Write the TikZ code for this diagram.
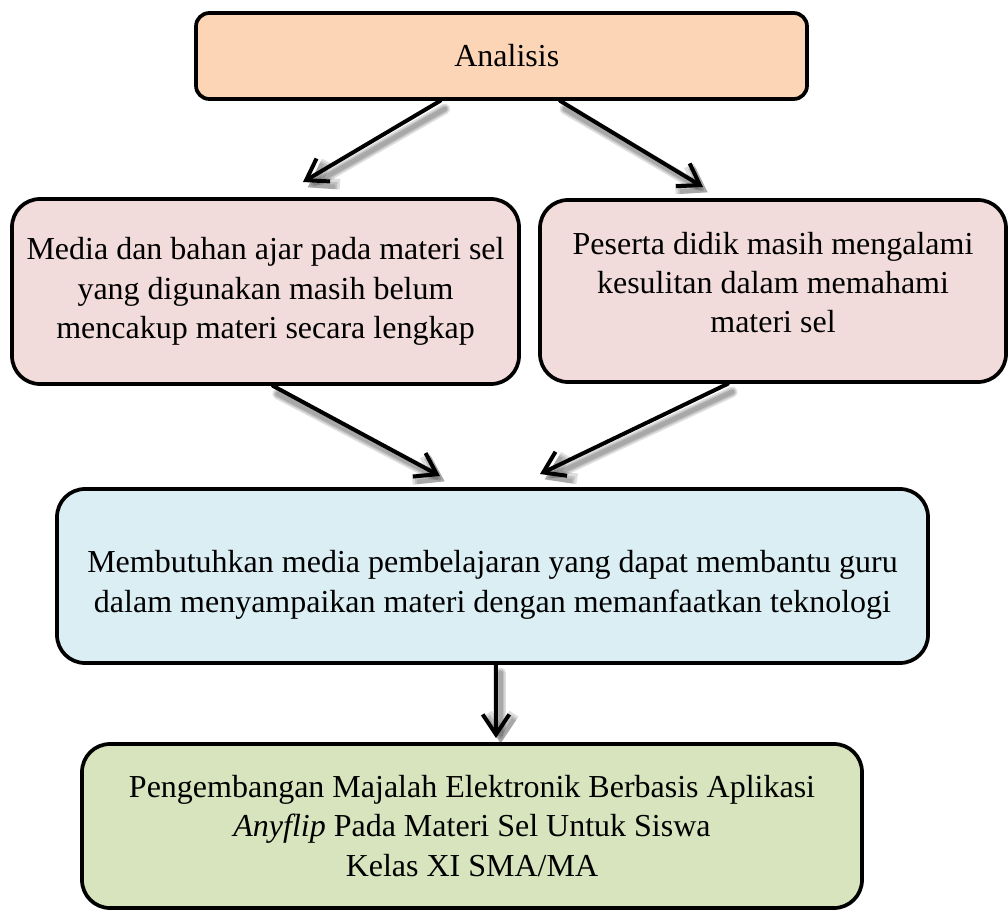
\documentclass[tikz,border=0pt]{standalone}
\usepackage{fontspec}
\setmainfont{Liberation Serif}
\usetikzlibrary{arrows.meta}
\definecolor{peach}{HTML}{FBD5B5}
\definecolor{pinkbox}{HTML}{F2DCDB}
\definecolor{bluebox}{HTML}{DAEEF3}
\definecolor{greenbox}{HTML}{D7E4BD}
\begin{document}
\begin{tikzpicture}[x=0.75pt,y=-0.75pt,
  box/.style={draw=black, line width=2.8pt, rounded corners=#1, align=center, inner sep=0pt,
    font=\fontsize{24}{29.5}\selectfont},
  arr/.style={line width=3pt, line cap=round, -{Straight Barb[length=15pt,width=20pt,line width=3pt]}},
  shd/.style={line width=#1, line cap=round, draw=black, draw opacity=0.13,
    -{Straight Barb[length=15pt,width=20pt,line width=#1]}, transform canvas={shift={(3.5pt,-4pt)}}}
]
\useasboundingbox (0,0) rectangle (1008,921);

% boxes
\node[box=10pt, fill=peach, minimum width={611*0.75pt}, minimum height={86*0.75pt}] (A) at (501.5,56) {\hspace*{8pt}Analisis};
\node[box=21pt, fill=pinkbox, minimum width={507*0.75pt}, minimum height={185*0.75pt}] (B) at (265.5,291.5)
  {Media dan bahan ajar pada materi sel\\yang digunakan masih belum\\mencakup materi secara lengkap};
\node[box=21pt, fill=pinkbox, minimum width={466*0.75pt}, minimum height={182*0.75pt}] (C) at (773,291)
  {Peserta didik masih mengalami\\kesulitan dalam memahami\\materi sel\rule[-13pt]{0pt}{1pt}};
\node[box=21pt, fill=bluebox, minimum width={871*0.75pt}, minimum height={174*0.75pt}] (D) at (492.5,576)
  {\rule{0pt}{30pt}Membutuhkan media pembelajaran yang dapat membantu guru\\dalam menyampaikan materi dengan memanfaatkan teknologi};
\node[box=21pt, fill=greenbox, minimum width={780*0.75pt}, minimum height={164*0.75pt}] (E) at (472,826)
  {Pengembangan Majalah Elektronik Berbasis Aplikasi\\\textit{Anyflip} Pada Materi Sel Untuk Siswa\\Kelas XI SMA/MA};

% arrow end points
\coordinate (tAB) at (303,182);
\coordinate (tAC) at (703,187);
\coordinate (tBD) at (440,476);
\coordinate (tCD) at (540,474);
\coordinate (tDE) at (496,738);

% shadows
\foreach \w in {8pt,5.5pt,3.5pt}{
  \draw[shd=\w] ([xshift=-46pt,yshift=-2pt]A.south) -- (tAB);
  \draw[shd=\w] ([xshift=44pt,yshift=-2pt]A.south) -- (tAC);
  \draw[shd=\w] ([xshift=5.6pt,yshift=-2pt]B.south) -- (tBD);
  \draw[shd=\w] ([xshift=-34pt,yshift=-2pt]C.south) -- (tCD);
  \draw[shd=\w] ([xshift=2.6pt,yshift=-2pt]D.south) -- (tDE);
}

% arrows
\draw[arr] ([xshift=-46pt]A.south) -- (tAB);
\draw[arr] ([xshift=44pt]A.south) -- (tAC);
\draw[arr] ([xshift=5.6pt]B.south) -- (tBD);
\draw[arr] ([xshift=-34pt]C.south) -- (tCD);
\draw[arr] ([xshift=2.6pt]D.south) -- (tDE);
\end{tikzpicture}
\end{document}
